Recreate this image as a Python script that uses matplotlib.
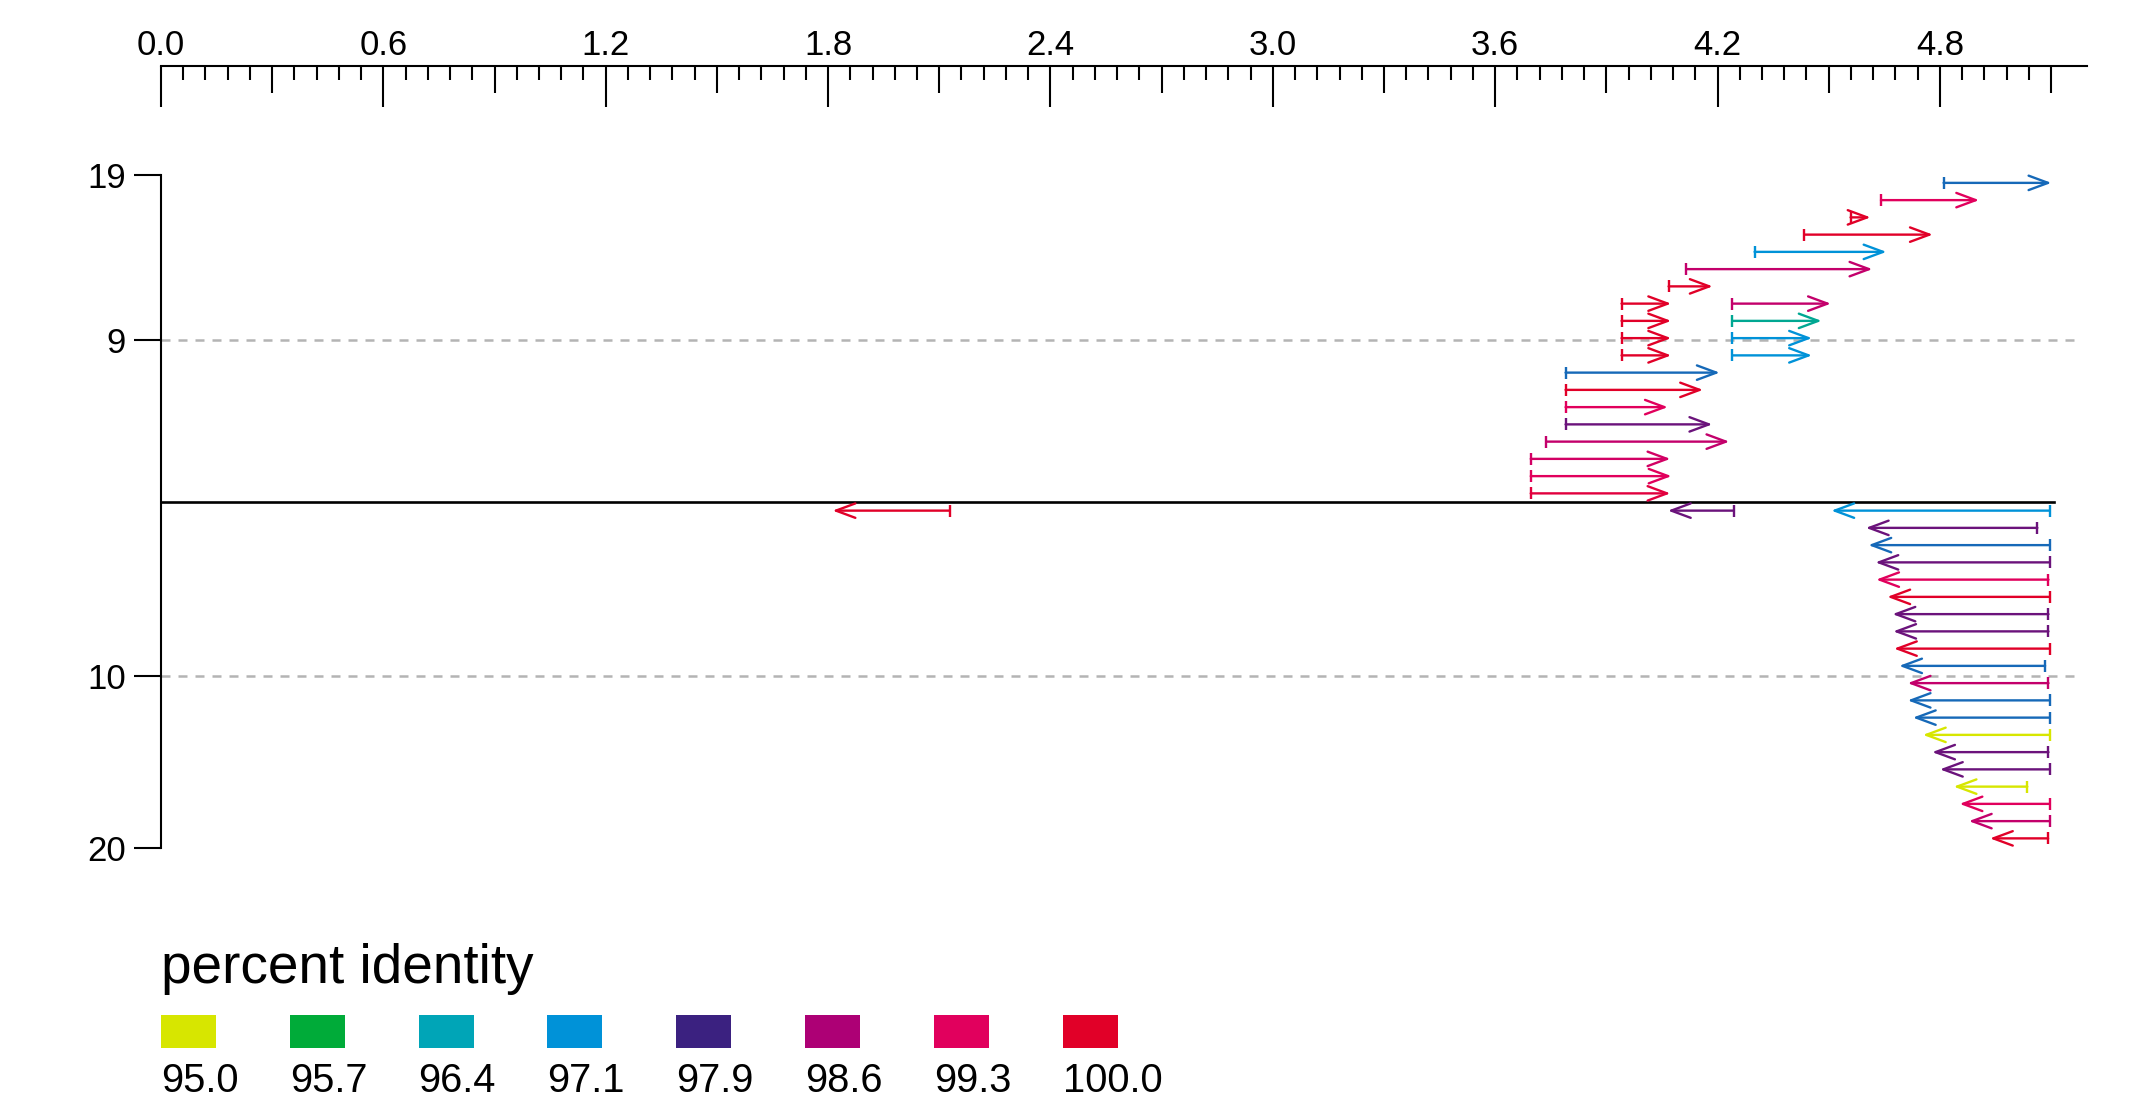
import matplotlib
matplotlib.use("Agg")
import matplotlib.pyplot as plt
from matplotlib.colors import LinearSegmentedColormap
from matplotlib.patches import ArrowStyle, Rectangle
import numpy as np

plt.rcParams['font.family'] = ['Liberation Sans', 'DejaVu Sans']

# percent identity colour scale
legend_values = [95.0, 95.7, 96.4, 97.1, 97.9, 98.6, 99.3, 100.0]
legend_colors = ['#d7e600', '#00ab39', '#00a5b7', '#0092d8',
                 '#3b2180', '#ad0075', '#e1005d', '#e10028']

# forward hits, upper panel (row 1 = top row)
fwd_row = [1, 2, 3, 4, 5, 6, 7, 8, 8, 9, 9, 10, 10, 11, 11,
           12, 13, 14, 15, 16, 17, 18, 19]
fwd_start = [4.810, 4.641, 4.559, 4.434, 4.300, 4.116, 4.068, 3.941, 4.240,
             3.941, 4.240, 3.941, 4.240, 3.941, 4.240,
             3.790, 3.790, 3.790, 3.790, 3.738, 3.696, 3.696, 3.696]
fwd_end = [5.101, 4.906, 4.613, 4.781, 4.656, 4.618, 4.187, 4.075, 4.506,
           4.075, 4.481, 4.075, 4.455, 4.075, 4.455,
           4.206, 4.161, 4.066, 4.186, 4.232, 4.073, 4.076, 4.073]
fwd_ident = [97.4, 99.3, 100.0, 100.0, 97.1, 98.9, 100.0, 100.0, 98.9,
             100.0, 96.2, 100.0, 97.1, 100.0, 97.1,
             97.4, 100.0, 99.3, 98.2, 98.9, 99.1, 99.3, 99.7]

# reverse hits, lower panel (row 1 = just below the divider)
rev_row = [1, 1, 1, 2, 3, 4, 5, 6, 7, 8, 9, 10,
           11, 12, 13, 14, 15, 16, 17, 18, 19, 20]
rev_start = [2.128, 4.244, 5.096, 5.063, 5.096, 5.096, 5.093, 5.096, 5.093, 5.093, 5.096, 5.084,
             5.093, 5.096, 5.096, 5.096, 5.093, 5.096, 5.036, 5.096, 5.096, 5.092]
rev_end = [1.812, 4.066, 4.507, 4.600, 4.607, 4.626, 4.628, 4.658, 4.672, 4.674, 4.676, 4.690,
           4.713, 4.713, 4.727, 4.754, 4.779, 4.800, 4.837, 4.853, 4.878, 4.935]
rev_ident = [100.0, 98.2, 97.1, 98.2, 97.4, 98.2, 99.3, 100.0, 98.2, 98.2, 100.0, 97.4,
             98.9, 97.4, 97.4, 95.0, 98.2, 98.2, 95.0, 99.3, 98.9, 100.0]

n_fwd_rows = 19
seq_end = 5.108
ytick_pos = [18.95, 9.4, -10.1, -20.05]
ytick_lab = ['19', '9', '10', '20']
grid_pos = [9.4, -10.1]

lo, hi = legend_values[0], legend_values[-1]
cmap = LinearSegmentedColormap.from_list(
    'ident', [((v - lo) / (hi - lo), c) for v, c in zip(legend_values, legend_colors)])


def ident_color(v):
    return cmap((v - lo) / (hi - lo))


W, H = 2133, 1110
fig = plt.figure(figsize=(W / 100, H / 100), dpi=100)

# axes geometry in pixels
x0_px, px_per_x = 161, 370.6
top_px, zero_px, px_per_row = 66, 502, 17.25
xmax = 5.25
ymin = -21.5
ymax = (zero_px - top_px) / px_per_row
ax_w = xmax * px_per_x
ax_h = (ymax - ymin) * px_per_row
ax = fig.add_axes([x0_px / W, 1 - (top_px + ax_h) / H, ax_w / W, ax_h / H])
ax.set_xlim(0, xmax)
ax.set_ylim(ymin, ymax)

for s in ['right', 'bottom']:
    ax.spines[s].set_visible(False)
ax.spines['top'].set_linewidth(1.5)
ax.spines['left'].set_linewidth(1.5)
ax.spines['top'].set_bounds(0, 5.196)
ax.spines['left'].set_bounds(ytick_pos[-1], ytick_pos[0])

# top scale: long ticks every 0.6, medium every 0.3, short every 0.06
major = np.round(np.arange(0, 4.81, 0.6), 2)
medium = np.round(np.arange(0.3, 5.11, 0.6), 2)
minor = [v for v in np.round(np.arange(0, 5.11, 0.06), 2)
         if abs(v / 0.3 - round(v / 0.3)) > 1e-6]
ax.xaxis.set_ticks_position('top')
ax.set_xticks(major)
ax.set_xticklabels([f"{v:.1f}" for v in major])
ax.set_xticks(minor, minor=True)
ax.tick_params(axis='x', which='major', direction='in', length=29.5, width=1.5,
               labelsize=25, pad=3)
ax.tick_params(axis='x', which='minor', direction='in', length=10, width=1.5)
sec = ax.secondary_xaxis('top')
sec.set_xticks(medium)
sec.tick_params(axis='x', direction='in', length=19.5, width=1.5,
                labeltop=False, labelbottom=False)
sec.spines['top'].set_visible(False)

ax.set_yticks(ytick_pos)
ax.set_yticklabels(ytick_lab)
ax.tick_params(axis='y', direction='out', length=19.4, width=1.5, labelsize=25, pad=6)

for g in grid_pos:
    ax.plot([0, 5.17], [g, g], color='#b4b4b4', lw=1.8,
            linestyle=(0, (3.6, 3.2)), zorder=1)
ax.plot([0, seq_end], [0, 0], color='black', lw=1.9, zorder=2)

head = ArrowStyle('->', head_length=14, head_width=5.2)


def draw_hit(xa, xb, y, color):
    ax.annotate('', xy=(xb, y), xytext=(xa, y),
                arrowprops=dict(arrowstyle=head, mutation_scale=1, color=color,
                                lw=1.7, shrinkA=0, shrinkB=0), zorder=3)
    ax.plot([xa], [y], marker='|', ms=9, mew=1.7, color=color, zorder=3)


for r, a, b, p in zip(fwd_row, fwd_start, fwd_end, fwd_ident):
    draw_hit(a, b, n_fwd_rows + 0.5 - r, ident_color(p))
for r, a, b, p in zip(rev_row, rev_start, rev_end, rev_ident):
    draw_hit(a, b, 0.5 - r, ident_color(p))

# legend
fig.text(161 / W, 1 - 983 / H, 'percent identity', fontsize=39.5, ha='left', va='baseline')
for k, (v, c) in enumerate(zip(legend_values, legend_colors)):
    lx = (161 + k * 128.8) / W
    fig.add_artist(Rectangle((lx, 1 - 1047.5 / H), 55 / W, 33 / H,
                             transform=fig.transFigure, facecolor=c, edgecolor='none'))
    fig.text(lx, 1 - 1092 / H, f"{v:.1f}", fontsize=28.7, ha='left', va='baseline')

fig.savefig('out.png', dpi=100)
